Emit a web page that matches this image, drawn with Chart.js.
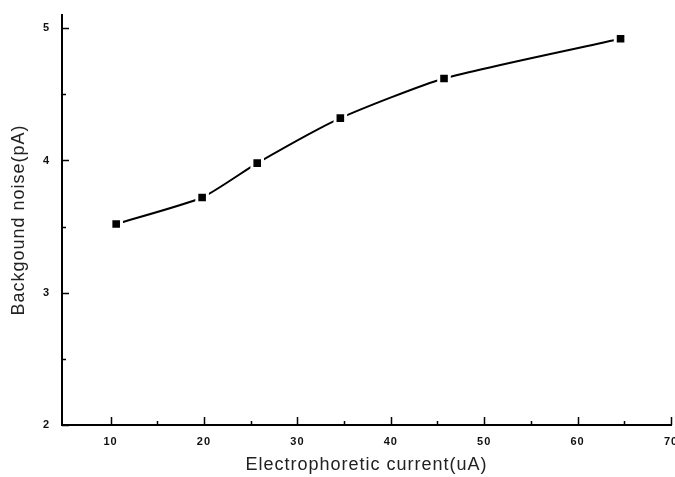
<!DOCTYPE html>
<html>
<head>
<meta charset="utf-8">
<title>Background noise vs electrophoretic current</title>
<script src="https://cdn.jsdelivr.net/npm/chart.js@4/dist/chart.umd.min.js"></script>
<style>
    html, body { margin: 0; padding: 0; background: #fff; overflow: hidden; }
    #wrap { width: 700px; height: 477px; }
</style>
</head>
<body>
<div id="wrap"><canvas id="chart" width="700" height="477"></canvas></div>
<script>
// data
var currents = [10.6, 19.8, 25.7, 34.6, 45.7, 64.6];
var noise = [3.52, 3.72, 3.98, 4.32, 4.62, 4.92];

// tick values
var xTicks = [10, 20, 30, 40, 50, 60, 70];
var xMinor = [15, 25, 35, 45, 55, 65];
var yTicks = [2, 3, 4, 5];
var yMinor = [2.5, 3.5, 4.5];

// axis titles
var xTitle = 'Electrophoretic current(uA)';
var yTitle = 'Backgound noise(pA)';

// points
var points = currents.map(function(x, i) {
    return {x: x, y: noise[i]};
});

// wider letter spacing, like the scanned figure
var spacing = {
    id: 'spacing',
    beforeDraw: function(chart) {
        if ('letterSpacing' in chart.ctx) {
            chart.ctx.letterSpacing = '1px';
        }
    }
};

// inward tick marks
var insideTicks = {
    id: 'insideTicks',
    afterDraw: function(chart) {
        var ctx = chart.ctx;
        var area = chart.chartArea;
        var xs = chart.scales.x;
        var ys = chart.scales.y;
        ctx.save();
        ctx.strokeStyle = '#000';
        ctx.lineWidth = 1.5;
        ctx.beginPath();
        xTicks.forEach(function(v) {
            var px = Math.round(xs.getPixelForValue(v)) + 0.5;
            ctx.moveTo(px, area.bottom);
            ctx.lineTo(px, area.bottom - 8);
        });
        xMinor.forEach(function(v) {
            var px = Math.round(xs.getPixelForValue(v)) + 0.5;
            ctx.moveTo(px, area.bottom);
            ctx.lineTo(px, area.bottom - 4);
        });
        yTicks.forEach(function(v) {
            var py = Math.round(ys.getPixelForValue(v)) + 0.5;
            ctx.moveTo(area.left, py);
            ctx.lineTo(area.left + 7, py);
        });
        yMinor.forEach(function(v) {
            var py = Math.round(ys.getPixelForValue(v)) + 0.5;
            ctx.moveTo(area.left, py);
            ctx.lineTo(area.left + 4, py);
        });
        ctx.stroke();
        ctx.restore();
    }
};

// chart
var tickFont = {family: 'Liberation Sans, Arial, sans-serif', size: 11, weight: 'bold'};
var titleFont = {family: 'Liberation Sans, Arial, sans-serif', size: 18};

new Chart(document.getElementById('chart'), {
    type: 'line',
    data: {
        datasets: [{
            data: points,
            borderColor: '#000',
            borderWidth: 2,
            tension: 0.2,
            pointStyle: 'rect',
            pointRadius: 7.5,
            pointBackgroundColor: '#000',
            pointBorderColor: '#fff',
            pointBorderWidth: 3
        }]
    },
    options: {
        responsive: false,
        animation: false,
        devicePixelRatio: 1,
        layout: {padding: {top: 15, right: 29, left: 0, bottom: 0}},
        plugins: {
            legend: {display: false},
            tooltip: {enabled: false}
        },
        scales: {
            x: {
                type: 'linear',
                min: 4.8,
                max: 70,
                afterBuildTicks: function(scale) {
                    scale.ticks = xTicks.map(function(v) { return {value: v}; });
                },
                afterFit: function(scale) {
                    scale.height = 52;
                },
                grid: {display: false, drawTicks: false},
                border: {display: true, color: '#000', width: 2},
                ticks: {color: '#111', font: tickFont, padding: 10, maxRotation: 0, autoSkip: false},
                title: {
                    display: true,
                    text: xTitle,
                    color: '#222',
                    font: titleFont,
                    padding: {top: 0, bottom: 1}
                }
            },
            y: {
                type: 'linear',
                min: 2,
                max: 5.1,
                afterBuildTicks: function(scale) {
                    scale.ticks = yTicks.map(function(v) { return {value: v}; });
                },
                afterFit: function(scale) {
                    scale.width = 62;
                    scale.paddingTop = 0;
                    scale.paddingBottom = 0;
                },
                grid: {display: false, drawTicks: false},
                border: {display: true, color: '#000', width: 2},
                ticks: {color: '#111', font: tickFont, padding: 12},
                title: {
                    display: true,
                    text: yTitle,
                    color: '#222',
                    font: titleFont,
                    padding: {top: 8, bottom: 0}
                }
            }
        }
    },
    plugins: [spacing, insideTicks]
});
</script>
</body>
</html>
